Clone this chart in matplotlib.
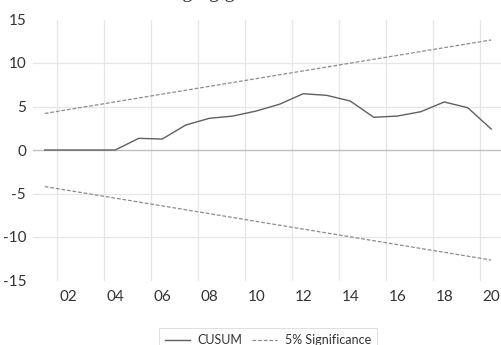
import matplotlib
matplotlib.use("Agg")
import matplotlib.pyplot as plt
from matplotlib.lines import Line2D

plt.rcParams['font.family'] = ['Lato', 'DejaVu Sans']

years = list(range(2001, 2021))
cusum = [0.0, 0.0, 0.0, 0.0, 1.34, 1.26, 2.87, 3.64, 3.90, 4.48,
         5.27, 6.47, 6.28, 5.63, 3.76, 3.90, 4.40, 5.52, 4.86, 2.41]
sig_years = [2001, 2020]
upper = [4.2, 12.65]
lower = [-4.2, -12.65]
tick_years = list(range(2002, 2021, 2))
tick_labels = ["02", "04", "06", "08", "10", "12", "14", "16", "18", "20"]
y_ticks = [-15, -10, -5, 0, 5, 10, 15]
title = "Changing growth"

fig = plt.figure(figsize=(5.01, 3.45), dpi=100)
ax = fig.add_axes([33/501, 1-280.5/345, 470/501, 261/345])
ax.set_xlim(2000.5, 2020.5)
ax.set_ylim(-15, 15)

for s in ax.spines.values():
    s.set_visible(False)

# gridlines
for yv in [-10, -5, 5, 10]:
    ax.axhline(yv, color='#e6e6e6', lw=0.9, zorder=0)
for xv in range(2001, 2020, 2):
    ax.axvline(xv + 0.5, color='#e6e6e6', lw=0.9, zorder=0)
ax.axhline(0, color='#bfbfbf', lw=1.0, zorder=1)

ax.plot(years, cusum, color='#606060', lw=1.0, zorder=3)
ax.plot(sig_years, upper, color='#8c8c8c', lw=0.9, ls=(0, (3, 1.5)), zorder=2)
ax.plot(sig_years, lower, color='#8c8c8c', lw=0.9, ls=(0, (3, 1.5)), zorder=2)

ax.set_yticks(y_ticks)
ax.set_yticklabels([str(v) for v in y_ticks])
ax.set_xticks(tick_years)
ax.set_xticklabels(tick_labels)
ax.tick_params(axis='both', length=0, labelsize=11, colors='#333333')
ax.tick_params(axis='y', pad=5)
ax.tick_params(axis='x', pad=7)

fig.text(138/501, 1 + 2.5/345, title, family='Liberation Serif', fontsize=15,
         ha='left', va='baseline', color='#333333')

handles = [Line2D([], [], color='#606060', lw=1.0),
           Line2D([], [], color='#8c8c8c', lw=0.9, ls=(0, (3, 1.5)))]
leg = fig.legend(handles, ["CUSUM", "5% Significance"], loc='upper center',
                 bbox_to_anchor=(268/501, 1-322/345), ncol=2, frameon=True,
                 fontsize=9, handlelength=2.0, columnspacing=0.8,
                 handletextpad=0.6, borderpad=0.45, fancybox=False)
leg.get_frame().set_edgecolor('#d9d9d9')
leg.get_frame().set_linewidth(0.8)
for t in leg.get_texts():
    t.set_color('#333333')

fig.savefig("out.png", dpi=100)
